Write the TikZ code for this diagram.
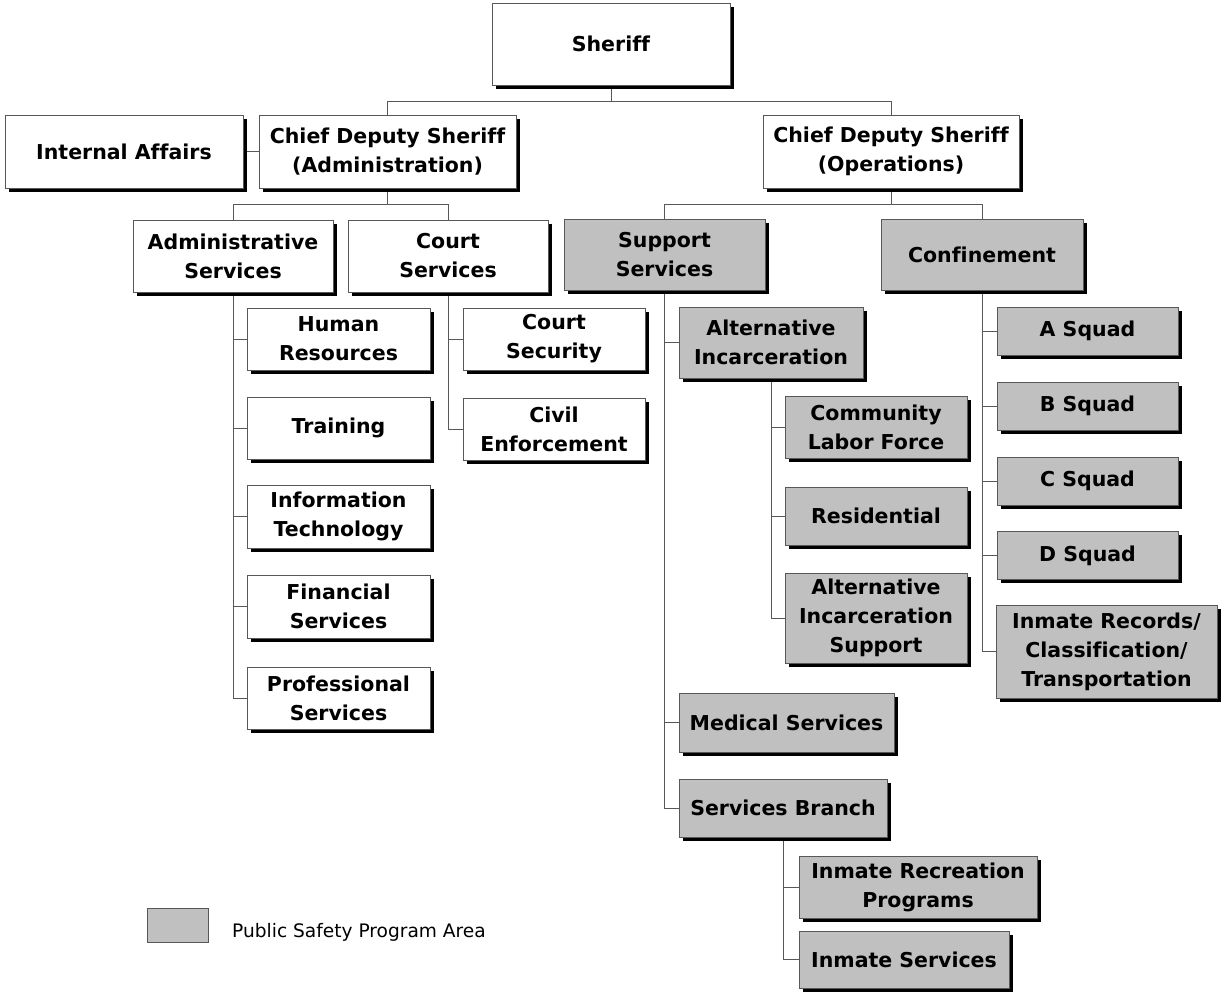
\documentclass[tikz,border=0pt]{standalone}
\usepackage{fontspec}
\setmainfont{DejaVu Sans}[Ligatures=NoCommon]
\usepackage{xcolor}
\usepackage{tikz}
\usetikzlibrary{shadows,backgrounds}

\definecolor{psgray}{RGB}{192,192,192}
\definecolor{edgegray}{RGB}{88,88,88}

\begin{document}
\begin{tikzpicture}[x=1pt,y=-1pt,
  unit/.style={draw=edgegray,line width=0.8pt,fill=white,align=center,inner sep=2pt,outer sep=0pt,
    font=\bfseries\fontsize{20.5}{29}\selectfont,
    drop shadow={shadow xshift=3.5pt,shadow yshift=-3.5pt,opacity=1,fill=black}},
  ps/.style={unit,fill=psgray},
  link/.style={draw=edgegray,line width=0.8pt}]
\useasboundingbox (0,0) rectangle (1225,994);

\node[unit,minimum width=238,minimum height=82] (sheriff) at (611,44) {Sheriff};

\node[unit,minimum width=238,minimum height=73] (ia) at (124,151.5) {Internal Affairs};
\node[unit,minimum width=257,minimum height=73] (cdsa) at (387.5,151.5) {Chief Deputy Sheriff\\(Administration)};
\node[unit,minimum width=256,minimum height=73] (cdso) at (891,151.5) {Chief Deputy Sheriff\\(Operations)};

\node[unit,minimum width=200,minimum height=72] (adm) at (233,256) {Administrative\\Services};
\node[unit,minimum width=200,minimum height=72] (court) at (448,256) {Court\\Services};
\node[ps,minimum width=201,minimum height=71] (supp) at (664.5,255) {Support\\Services};
\node[ps,minimum width=202,minimum height=71] (conf) at (982,255) {Confinement};

\node[unit,minimum width=183,minimum height=62] (hr) at (338.5,339) {Human\\Resources};
\node[unit,minimum width=183,minimum height=62] (train) at (338.5,428) {Training};
\node[unit,minimum width=183,minimum height=63] (it) at (338.5,516.5) {Information\\Technology};
\node[unit,minimum width=183,minimum height=63] (fin) at (338.5,606.5) {Financial\\Services};
\node[unit,minimum width=183,minimum height=62] (prof) at (338.5,698) {Professional\\Services};

\node[unit,minimum width=182,minimum height=62] (csec) at (554,339) {Court\\Security};
\node[unit,minimum width=182,minimum height=62] (civ) at (554,429) {Civil\\Enforcement};

\node[ps,minimum width=184,minimum height=71] (altinc) at (771,342.5) {Alternative\\Incarceration};
\node[ps,minimum width=182,minimum height=62] (clf) at (876,427) {Community\\Labor Force};
\node[ps,minimum width=182,minimum height=58] (res) at (876,516) {Residential};
\node[ps,minimum width=182,minimum height=90] (ais) at (876,618) {Alternative\\Incarceration\\Support};
\node[ps,minimum width=215,minimum height=59] (med) at (786.5,722.5) {Medical Services};
\node[ps,minimum width=208,minimum height=58] (sb) at (783,808) {Services Branch};
\node[ps,minimum width=238,minimum height=62] (irp) at (918,887) {Inmate Recreation\\Programs};
\node[ps,minimum width=210,minimum height=57] (ins) at (904,959.5) {Inmate Services};

\node[ps,minimum width=181,minimum height=48] (asq) at (1087.5,331) {A Squad};
\node[ps,minimum width=181,minimum height=48] (bsq) at (1087.5,406) {B Squad};
\node[ps,minimum width=181,minimum height=48] (csq) at (1087.5,481) {C Squad};
\node[ps,minimum width=181,minimum height=48] (dsq) at (1087.5,555.5) {D Squad};
\node[ps,minimum width=221,minimum height=93] (irec) at (1106.5,651.5) {Inmate Records/\\Classification/\\Transportation};

\node[draw=edgegray,line width=0.8pt,fill=psgray,minimum width=61,minimum height=34,outer sep=0pt] (key) at (177.5,925) {};
\node[anchor=base west,inner sep=0pt,font=\fontsize{18.6}{22}\selectfont] (keytext) at (232,937) {Public Safety Program Area};

\coordinate (bus0) at (0,101);
\coordinate (bus1) at (0,204.5);

\begin{scope}[on background layer]
\draw[link] (sheriff.south) -- (sheriff.south |- bus0);
\draw[link] (cdsa.north) -- (cdsa.north |- bus0) -| (cdso.north);
\draw[link] (ia.east) -- (cdsa.west);
\draw[link] (cdsa.south) -- (cdsa.south |- bus1);
\draw[link] (adm.north) -- (adm.north |- bus1) -| (court.north);
\draw[link] (cdso.south) -- (cdso.south |- bus1);
\draw[link] (supp.north) -- (supp.north |- bus1) -| (conf.north);
\foreach \c in {hr,train,it,fin,prof} \draw[link] (adm.south) |- (\c.west);
\foreach \c in {csec,civ} \draw[link] (court.south) |- (\c.west);
\foreach \c in {altinc,med,sb} \draw[link] (supp.south) |- (\c.west);
\foreach \c in {clf,res,ais} \draw[link] (altinc.south) |- (\c.west);
\foreach \c in {irp,ins} \draw[link] (sb.south) |- (\c.west);
\foreach \c in {asq,bsq,csq,dsq,irec} \draw[link] (conf.south) |- (\c.west);
\end{scope}
\end{tikzpicture}
\end{document}
